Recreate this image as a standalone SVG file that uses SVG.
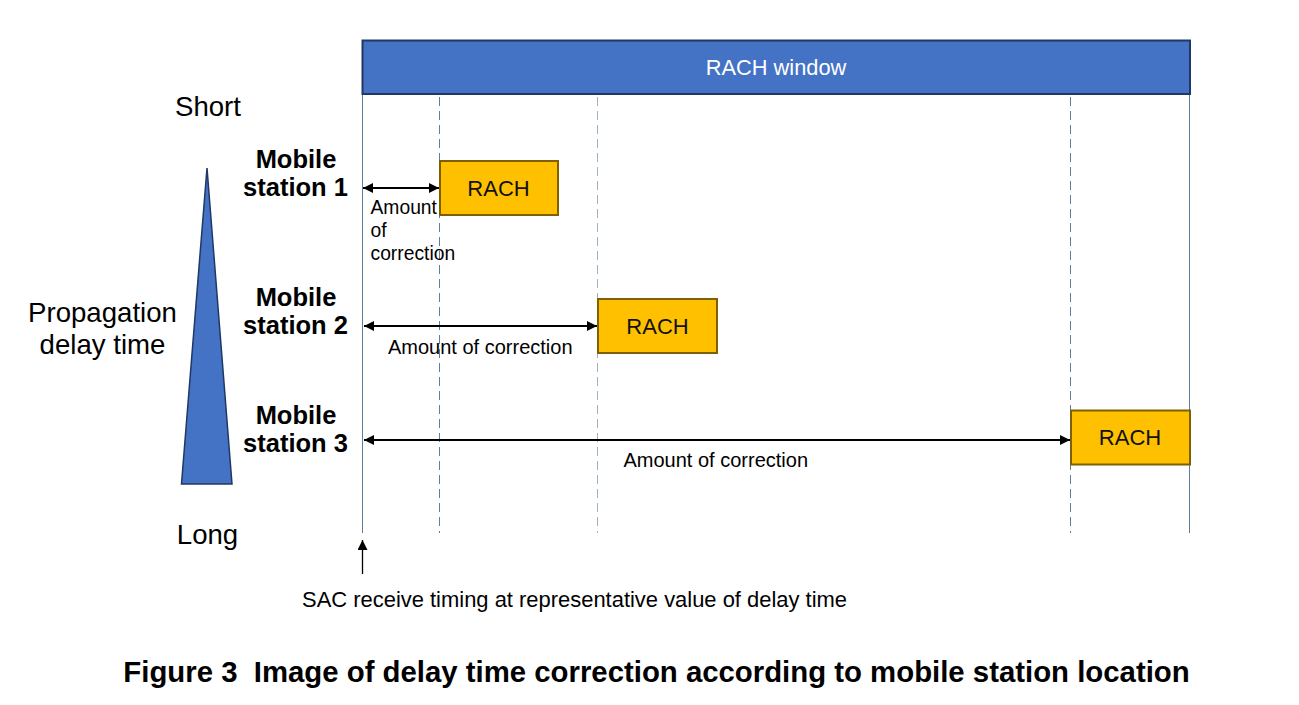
<svg xmlns="http://www.w3.org/2000/svg" width="1299" height="705" viewBox="0 0 1299 705">
<style>
text{font-family:"Liberation Sans",Arial,sans-serif;fill:#000}
.lbl{font-size:27.600px;text-anchor:middle}
.ms{font-size:25.500px;font-weight:700;text-anchor:middle}
.small{font-size:20px}
.rach{font-size:22px;text-anchor:middle;fill:#111}
.box{fill:#ffc000;stroke:#7f6000;stroke-width:2}
.v{stroke:#5f7f9e;stroke-width:1;fill:none}
.d{stroke-dasharray:9 5}
.a{stroke:#000;stroke-width:2.200;fill:none;marker-start:url(#ah);marker-end:url(#ah)}
</style>
<defs>
<marker id="ah" viewBox="0 0 10 10" refX="10" refY="5" markerWidth="10" markerHeight="10" markerUnits="userSpaceOnUse" orient="auto-start-reverse"><path d="M0 0L10 5L0 10Z" fill="#000"/></marker>
<marker id="up" viewBox="0 0 10 10" refX="10" refY="5" markerWidth="10" markerHeight="10" markerUnits="userSpaceOnUse" orient="auto"><path d="M0 0L10 5L0 10Z" fill="#000"/></marker>
</defs>
<rect width="1299" height="705" fill="#fff"/>
<g id="connectors">
<path class="v" d="M362.500 94V533"/>
<path class="v d" d="M439.500 97V533"/>
<path class="v d" d="M597.500 97V533" stroke-opacity=".6"/>
<path class="v d" d="M1070.500 97V533"/>
<path class="v" d="M1189.500 94V533"/>
<path class="a" d="M363 188H439"/>
<path class="a" d="M364 326H597"/>
<path class="a" d="M364 440H1070"/>
<path d="M362.500 574V540" stroke="#000" stroke-width="1.300" marker-end="url(#up)"/>
</g>
<g id="rach-window"><rect x="362.500" y="40.500" width="827.500" height="53.500" fill="#4472c4" stroke="#1f3864" stroke-width="2"/><text x="776" y="74.500" font-size="21.800" text-anchor="middle" style="fill:#fff">RACH window</text></g>
<g id="triangle"><path d="M207 168L232 484H181.500Z" fill="#4472c4" stroke="#1f3864" stroke-width="1.500"/></g>
<g id="short"><text class="lbl" x="208" y="116">Short</text></g>
<g id="long"><text class="lbl" x="207.500" y="544">Long</text></g>
<g id="propagation"><text class="lbl" x="102.500" y="321.500">Propagation</text><text class="lbl" x="102.500" y="354">delay time</text></g>
<g id="ms1"><text class="ms" x="296" y="168">Mobile</text><text class="ms" x="295.500" y="195.500">station 1</text></g>
<g id="ms2"><text class="ms" x="296" y="306">Mobile</text><text class="ms" x="295.500" y="334">station 2</text></g>
<g id="ms3"><text class="ms" x="296" y="424">Mobile</text><text class="ms" x="295.500" y="452">station 3</text></g>
<g id="rach1"><rect class="box" x="440" y="161" width="118" height="54"/><text class="rach" x="498.500" y="195.500">RACH</text></g>
<g id="rach2"><rect class="box" x="598" y="299" width="119" height="54"/><text class="rach" x="657.500" y="333.500">RACH</text></g>
<g id="rach3"><rect class="box" x="1071" y="410.500" width="119" height="54"/><text class="rach" x="1130" y="444.500">RACH</text></g>
<g id="amount1"><text class="small" style="font-size:19.300px" x="370.500" y="214">Amount</text><text class="small" style="font-size:19.300px" x="370.500" y="237">of</text><text class="small" style="font-size:19.300px" x="370.500" y="260">correction</text></g>
<g id="amount2"><text class="small" x="388" y="354">Amount of correction</text></g>
<g id="amount3"><text class="small" x="623.500" y="466.500">Amount of correction</text></g>
<g id="sac"><text class="small" style="font-size:21.950px" x="302" y="606.500">SAC receive timing at representative value of delay time</text></g>
<g id="caption"><text x="656.500" y="682" font-size="29.350" font-weight="700" text-anchor="middle" style="white-space:pre">Figure 3  Image of delay time correction according to mobile station location</text></g>
</svg>
